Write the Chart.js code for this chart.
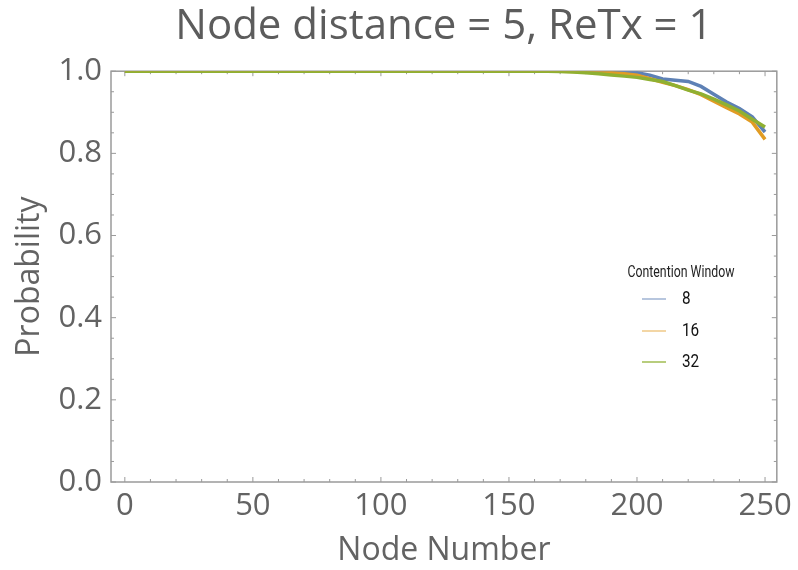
<!DOCTYPE html>
<html>
<head>
<meta charset="utf-8">
<script src="https://cdn.jsdelivr.net/npm/chart.js@4.4.0/dist/chart.umd.min.js"></script>
<style>
html, body { margin: 0; padding: 0; background: #fff; }
#wrap { width: 798px; height: 570px; }
</style>
</head>
<body>
<div id="wrap"><canvas id="line" width="798" height="570"></canvas></div>
<script>
// node numbers (x) and probability per contention window
const nodes = [0, 5, 10, 15, 20, 25, 30, 35, 40, 45, 50, 55, 60, 65, 70, 75, 80, 85, 90, 95,
    100, 105, 110, 115, 120, 125, 130, 135, 140, 145, 150, 155, 160, 165, 170, 175, 180, 185, 190, 195,
    200, 205, 210, 215, 220, 225, 230, 235, 240, 245, 250];
const cw8 = [1, 1, 1, 1, 1, 1, 1, 1, 1, 1, 1, 1, 1, 1, 1, 1, 1, 1, 1, 1,
    1, 1, 1, 1, 1, 1, 1, 1, 1, 1, 1, 1, 1, 1, 1, 1, 1, 1, 0.999, 0.998,
    0.996, 0.990, 0.981, 0.978, 0.975, 0.963, 0.944, 0.925, 0.909, 0.889, 0.852];
const cw16 = [1, 1, 1, 1, 1, 1, 1, 1, 1, 1, 1, 1, 1, 1, 1, 1, 1, 1, 1, 1,
    1, 1, 1, 1, 1, 1, 1, 1, 1, 1, 1, 1, 1, 1, 1, 0.999, 0.999, 0.998, 0.996, 0.994,
    0.990, 0.982, 0.973, 0.965, 0.955, 0.943, 0.927, 0.911, 0.896, 0.876, 0.834];
const cw32 = [1, 1, 1, 1, 1, 1, 1, 1, 1, 1, 1, 1, 1, 1, 1, 1, 1, 1, 1, 1,
    1, 1, 1, 1, 1, 1, 1, 1, 1, 1, 1, 1, 1, 1, 0.999, 0.998, 0.996, 0.994, 0.991, 0.988,
    0.985, 0.980, 0.975, 0.965, 0.954, 0.945, 0.932, 0.918, 0.903, 0.883, 0.864];
const seriesNames = ['8', '16', '32'];
const xTicks = [0, 50, 100, 150, 200, 250];
const yTicks = [0, 0.2, 0.4, 0.6, 0.8, 1.0];

const colors = ['#5E81B5', '#E19C24', '#8FB032'];
const legendColors = ['rgba(94,129,181,0.6)', 'rgba(225,156,36,0.55)', 'rgba(143,176,50,0.85)'];
const axisGray = '#9a9a9a';
const textGray = '#636363';
const mainFont = '"Open Sans", "Liberation Sans", sans-serif';

function toPoints(vals) {
    return vals.map((v, i) => ({ x: nodes[i], y: v }));
}

// frame round the plot and small inside ticks
const framePlugin = {
    id: 'frame',
    beforeDatasetsDraw(chart) {
        const ctx = chart.ctx;
        const a = chart.chartArea;
        const xs = chart.scales.x, ys = chart.scales.y;
        ctx.save();
        ctx.strokeStyle = axisGray;
        ctx.lineWidth = 1.5;
        ctx.strokeRect(a.left, a.top, a.right - a.left, a.bottom - a.top);
        ctx.lineWidth = 1;
        ctx.beginPath();
        for (let v = 0; v <= 250; v += 10) {
            const px = xs.getPixelForValue(v);
            const len = v % 50 === 0 ? 5 : 3;
            ctx.moveTo(px, a.bottom); ctx.lineTo(px, a.bottom - len);
            ctx.moveTo(px, a.top); ctx.lineTo(px, a.top + len);
        }
        for (let k = 0; k <= 20; k++) {
            const py = ys.getPixelForValue(k * 0.05);
            const len = k % 4 === 0 ? 5 : 3;
            ctx.moveTo(a.left, py); ctx.lineTo(a.left + len, py);
            ctx.moveTo(a.right, py); ctx.lineTo(a.right - len, py);
        }
        ctx.stroke();
        ctx.restore();
    }
};

// legend placed inside the plot (narrow text like the original)
const innerLegend = {
    id: 'innerLegend',
    afterDraw(chart) {
        const ctx = chart.ctx;
        ctx.save();
        ctx.fillStyle = '#222';
        ctx.textBaseline = 'middle';
        ctx.textAlign = 'center';
        ctx.font = '16px Roboto, sans-serif';
        ctx.save();
        ctx.translate(681, 273);
        ctx.scale(0.77, 1);
        ctx.fillText('Contention Window', 0, 0);
        ctx.restore();
        const rows = [299, 331, 362];
        chart.data.datasets.forEach((ds, i) => {
            ctx.strokeStyle = legendColors[i];
            ctx.lineWidth = 1.5;
            ctx.beginPath();
            ctx.moveTo(642, rows[i]);
            ctx.lineTo(666, rows[i]);
            ctx.stroke();
            ctx.save();
            ctx.translate(682, rows[i]);
            ctx.scale(0.85, 1);
            ctx.textAlign = 'left';
            ctx.fillStyle = '#111';
            ctx.font = '18px Roboto, sans-serif';
            ctx.fillText(ds.label, 0, 0);
            ctx.restore();
        });
        ctx.restore();
    }
};

function initLineGraph() {
    const ctx = document.getElementById('line').getContext('2d');
    const datasets = [cw8, cw16, cw32].map((vals, i) => ({
        label: seriesNames[i],
        data: toPoints(vals),
        borderColor: colors[i],
        backgroundColor: colors[i],
        borderWidth: 3.5,
        pointRadius: 0,
        tension: 0,
        fill: false,
        order: 3 - i   // later series drawn on top
    }));
    new Chart(ctx, {
        type: 'line',
        data: { datasets: datasets },
        options: {
            responsive: false,
            animation: false,
            devicePixelRatio: 1,
            layout: { padding: { left: 4, right: 20, top: 0, bottom: 0 } },
            scales: {
                x: {
                    type: 'linear',
                    min: -5.4,
                    max: 254.6,
                    afterBuildTicks: s => { s.ticks = xTicks.map(v => ({ value: v })); },
                    afterFit: s => { s.height = 88; },
                    grid: { display: false, drawTicks: false },
                    border: { display: false },
                    ticks: { color: textGray, font: { family: mainFont, size: 31 }, padding: 6, maxRotation: 0 },
                    title: { display: true, text: 'Node Number', color: textGray,
                        font: { family: mainFont, size: 32 }, padding: { top: 0, bottom: 0 } }
                },
                y: {
                    min: 0,
                    max: 1,
                    afterBuildTicks: s => { s.ticks = yTicks.map(v => ({ value: v })); },
                    afterFit: s => { s.width = 107; },
                    grid: { display: false, drawTicks: false },
                    border: { display: false },
                    ticks: { color: textGray, font: { family: mainFont, size: 31 }, padding: 9,
                        callback: v => v.toFixed(1) },
                    title: { display: true, text: 'Probability', color: textGray,
                        font: { family: mainFont, size: 32 }, padding: { top: 7, bottom: 0 } }
                }
            },
            plugins: {
                legend: { display: false },
                tooltip: { enabled: false },
                title: {
                    display: true,
                    text: 'Node distance = 5, ReTx = 1',
                    color: '#5c5c5c',
                    fullSize: false,
                    font: { family: mainFont, size: 42, weight: 'normal', lineHeight: 1.1 },
                    padding: { top: 4, bottom: 21 }
                }
            }
        },
        plugins: [framePlugin, innerLegend]
    });
}
initLineGraph();
</script>
</body>
</html>
